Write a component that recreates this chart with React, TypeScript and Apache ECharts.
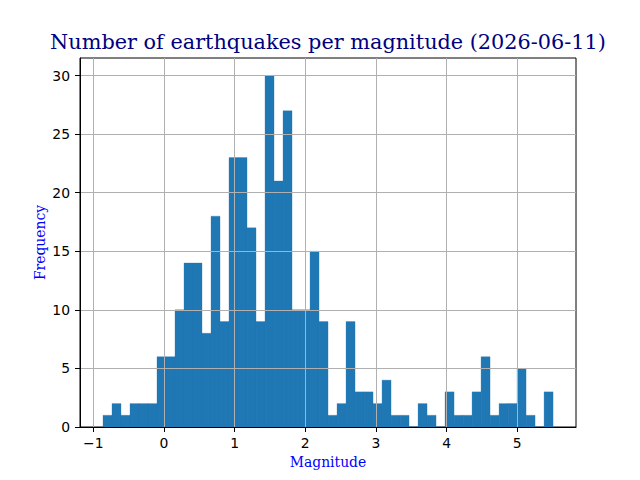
import React, { useEffect, useRef } from "react";
import * as echarts from "echarts";

// Histogram: 50 equal bins
const binStart = -0.863;
const binWidth = 0.1274;
const counts = [
  1, 2, 1, 2, 2, 2, 6, 6, 10, 14,
  14, 8, 18, 9, 23, 23, 17, 9, 30, 21,
  27, 10, 10, 15, 9, 1, 2, 9, 3, 3,
  2, 4, 1, 1, 0, 2, 1, 0, 3, 1,
  1, 3, 6, 1, 2, 2, 5, 1, 0, 3,
];
const xTicks = [-1, 0, 1, 2, 3, 4, 5];
const yTicks = [0, 5, 10, 15, 20, 25, 30];

const titleText = "Number of earthquakes per magnitude (2026-06-11)";
const xLabel = "Magnitude";
const yLabel = "Frequency";

export default function App() {
  const ref = useRef<HTMLDivElement>(null);
  useEffect(() => {
    if (!ref.current) return;
    const chart = echarts.init(ref.current, null, { renderer: "svg" });
    const data = counts.map((c, i) => [
      binStart + i * binWidth,
      binStart + (i + 1) * binWidth,
      c,
    ]);
    const sans = "DejaVu Sans";
    const serif = "DejaVu Serif";
    const axisCommon = {
      z: 3,
      axisLine: { show: true, onZero: false, lineStyle: { color: "#000", width: 1 } },
      axisTick: { show: true, length: 5, lineStyle: { color: "#000", width: 1 } },
      splitLine: { show: true, lineStyle: { color: "#b0b0b0", width: 1 } },
    };
    chart.setOption({
      animation: false,
      backgroundColor: "#fff",
      grid: {
        left: 80,
        right: 64,
        top: 58,
        bottom: 53,
        show: true,
        borderColor: "#000",
        borderWidth: 1,
        backgroundColor: "transparent",
      },
      xAxis: {
        type: "value",
        min: -1.1885,
        max: 5.8315,
        ...axisCommon,
        axisTick: { ...axisCommon.axisTick, customValues: xTicks },
        axisLabel: {
          customValues: xTicks,
          margin: 9,
          color: "#000",
          fontFamily: sans,
          fontSize: 13.9,
          formatter: (v: number) => (v < 0 ? "\u2212" + Math.abs(v) : String(v)),
        },
      },
      yAxis: {
        type: "value",
        min: 0,
        max: 31.5,
        ...axisCommon,
        axisTick: { ...axisCommon.axisTick, customValues: yTicks },
        axisLabel: {
          customValues: yTicks,
          margin: 10,
          color: "#000",
          fontFamily: sans,
          fontSize: 13.9,
        },
      },
      graphic: [
        {
          type: "text",
          x: 328,
          y: 42,
          style: {
            text: titleText,
            fontFamily: serif,
            fontSize: 20.8,
            fill: "#000080",
            textAlign: "center",
            textVerticalAlign: "middle",
          },
        },
        {
          type: "text",
          x: 328,
          y: 462,
          style: {
            text: xLabel,
            fontFamily: serif,
            fontSize: 13.9,
            fill: "#0000ff",
            textAlign: "center",
            textVerticalAlign: "middle",
          },
        },
        {
          type: "text",
          x: 40,
          y: 242.5,
          rotation: Math.PI / 2,
          style: {
            text: yLabel,
            fontFamily: serif,
            fontSize: 13.9,
            fill: "#0000ff",
            textAlign: "center",
            textVerticalAlign: "middle",
          },
        },
      ],
      series: [
        {
          type: "custom",
          z: 2,
          encode: { x: [0, 1], y: 2 },
          data,
          renderItem: (params: any, api: any) => {
            const p0 = api.coord([api.value(0), 0]);
            const p1 = api.coord([api.value(1), api.value(2)]);
            return {
              type: "rect",
              shape: {
                x: p0[0],
                y: p1[1],
                width: p1[0] - p0[0],
                height: p0[1] - p1[1],
              },
              style: { fill: "#1f77b4", stroke: "#1f77b4", lineWidth: 0.3 },
            };
          },
        },
      ],
    });
    return () => chart.dispose();
  }, []);
  return (
    <div
      ref={ref}
      style={{ position: "absolute", left: 0, top: 0, width: 640, height: 480 }}
    />
  );
}
